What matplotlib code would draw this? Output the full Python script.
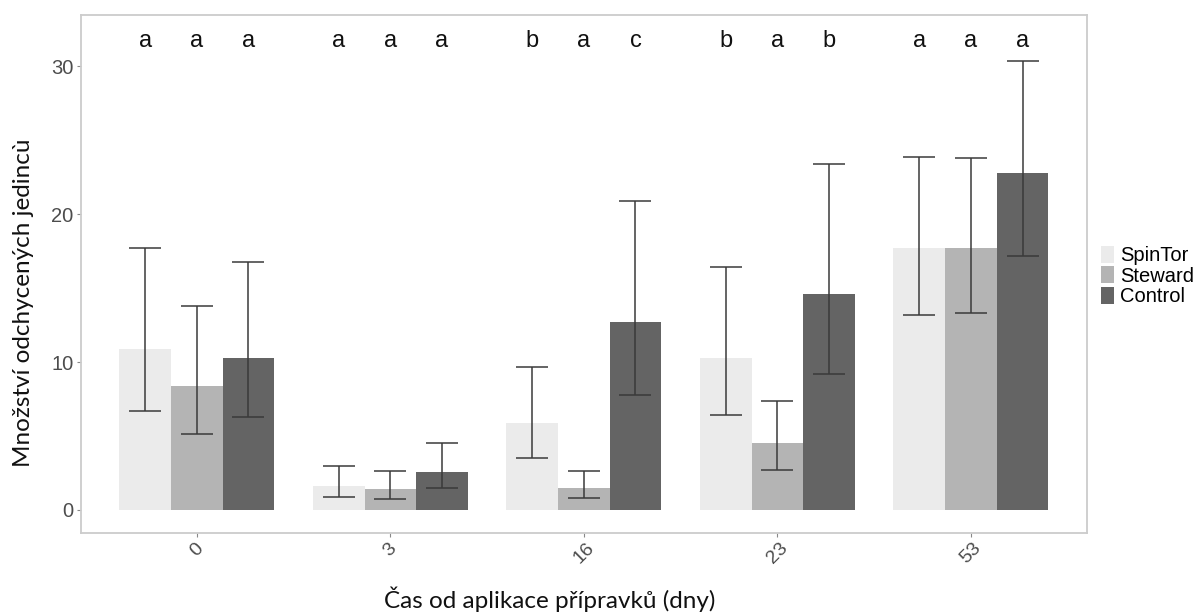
import numpy as np
import matplotlib
matplotlib.use("Agg")
import matplotlib.pyplot as plt
from matplotlib.patches import Patch

days = ["0", "3", "16", "23", "53"]
treatments = ["SpinTor", "Steward", "Control"]
spintor = [10.9, 1.6, 5.85, 10.3, 17.7]
steward = [8.37, 1.4, 1.47, 4.5, 17.7]
control = [10.26, 2.55, 12.7, 14.6, 22.8]
spintor_lo = [6.67, 0.89, 3.5, 6.4, 13.2]
spintor_hi = [17.74, 2.98, 9.7, 16.4, 23.85]
steward_lo = [5.14, 0.77, 0.83, 2.7, 13.3]
steward_hi = [13.78, 2.62, 2.66, 7.4, 23.8]
control_lo = [6.3, 1.47, 7.76, 9.2, 17.2]
control_hi = [16.8, 4.56, 20.9, 23.4, 30.4]
letters_spintor = ["a", "a", "b", "b", "a"]
letters_steward = ["a", "a", "a", "a", "a"]
letters_control = ["a", "a", "c", "b", "a"]

colors = ["#ebebeb", "#b4b4b4", "#646464"]
means = [spintor, steward, control]
los = [spintor_lo, steward_lo, control_lo]
his = [spintor_hi, steward_hi, control_hi]
letters = [letters_spintor, letters_steward, letters_control]

fig = plt.figure(figsize=(11.99, 6.15), dpi=100)
ax = fig.add_axes([0.0673, 0.1338, 0.9066 - 0.0673, 0.9761 - 0.1338])

x = np.arange(1, len(days) + 1)
bw = 0.8 / 3
for i, t in enumerate(treatments):
    xi = x + (i - 1) * bw
    m = np.array(means[i])
    lo = np.array(los[i])
    hi = np.array(his[i])
    ax.bar(xi, m, width=bw, color=colors[i], edgecolor="none", zorder=2)
    ax.errorbar(xi, m, yerr=[m - lo, hi - m], fmt="none", ecolor="#3a3a3a",
                elinewidth=1.1, capsize=11.4, capthick=1.1, zorder=3)
    for xx, lab in zip(xi, letters[i]):
        ax.text(xx, 31.3, lab, ha="center", va="baseline", fontsize=17,
                family="Liberation Sans", color="#111111")

ax.set_xlim(0.4, 5.6)
ax.set_ylim(-1.54, 33.5)
ax.set_xticks(x)
ax.set_xticklabels(days, rotation=45, ha="center", va="top",
                   fontsize=14, family="Liberation Sans", color="#4d4d4d")
ax.set_yticks([0, 10, 20, 30])
ax.set_yticklabels(["0", "10", "20", "30"], fontsize=14.5,
                   family="Liberation Sans", color="#4d4d4d")
ax.tick_params(axis="both", length=3, width=0.8, color="#888888", pad=2)
for s in ax.spines.values():
    s.set_color("#cccccc")
    s.set_linewidth(1.3)

fig.text(0.02, 0.507, "Množství odchycených jedincù", rotation=90,
         ha="center", va="center", fontsize=17.5, family="Lato", color="#111111")
fig.text(0.4587, 0.011, "Čas od aplikace přípravků (dny)", ha="center",
         va="baseline", fontsize=17.5, family="Lato", color="#111111")

handles = [Patch(facecolor=c, edgecolor="none", label=t) for c, t in zip(colors, treatments)]
fig.legend(handles=handles, loc="center left", bbox_to_anchor=(0.918, 0.551),
           frameon=False, handlelength=0.68, handleheight=0.9,
           labelspacing=0.06, handletextpad=0.3, borderpad=0, borderaxespad=0,
           prop={"family": "Liberation Sans", "size": 14.5})

fig.savefig("out.png", dpi=100, facecolor="white")
